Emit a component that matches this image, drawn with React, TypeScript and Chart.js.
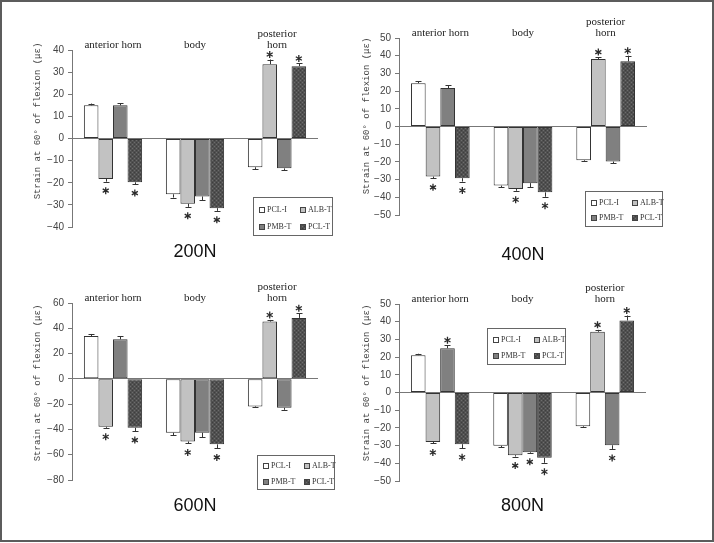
import React, { useEffect, useRef } from "react";
import { Chart, registerables } from "chart.js";
Chart.register(...registerables);

// ---------- data ----------
const categories: (string | string[])[] = ["anterior horn", "body", ["posterior", "horn"]];
const seriesNames = ["PCL-I", "ALB-T", "PMB-T", "PCL-T"];
const panelTitles = ["200N", "400N", "600N", "800N"];
const yTitleText = "Strain at 60° of flexion (με)";

const yMin = [-40, -50, -80, -50];
const yMax = [40, 50, 60, 50];
const yStep = [10, 10, 20, 10];

// 200N
const pclI_200 = [15.0, -25.2, -13.0];
const albT_200 = [-18.3, -29.5, 33.6];
const pmbT_200 = [15.0, -26.2, -13.5];
const pclT_200 = [-19.8, -31.5, 32.7];
const pclI_200_err = [0.8, 1.5, 0.8];
const albT_200_err = [1.2, 1.4, 2.1];
const pmbT_200_err = [1.0, 1.7, 0.8];
const pclT_200_err = [0.8, 1.2, 1.2];
const sig_200 = [false, true, false, true];

// 400N
const pclI_400 = [24.5, -33.4, -19.0];
const albT_400 = [-28.3, -35.3, 38.1];
const pmbT_400 = [21.7, -32.0, -19.8];
const pclT_400 = [-29.2, -37.2, 36.8];
const pclI_400_err = [1.0, 1.0, 0.4];
const albT_400_err = [1.0, 1.0, 1.1];
const pmbT_400_err = [1.7, 2.3, 1.0];
const pclT_400_err = [1.9, 2.5, 3.2];
const sig_400 = [false, true, false, true];

// 600N
const pclI_600 = [33.9, -42.6, -21.8];
const albT_600 = [-37.9, -49.5, 45.3];
const pmbT_600 = [31.3, -42.6, -22.9];
const pclT_600 = [-38.7, -51.8, 48.2];
const pclI_600_err = [1.6, 1.8, 0.5];
const albT_600_err = [0.8, 1.6, 1.3];
const pmbT_600_err = [2.4, 3.7, 1.6];
const pclT_600_err = [2.6, 3.2, 3.7];
const sig_600 = [false, true, false, true];

// 800N
const pclI_800 = [21.1, -30.1, -19.0];
const albT_800 = [-27.9, -35.4, 34.3];
const pmbT_800 = [25.0, -33.7, -29.8];
const pclT_800 = [-29.2, -36.9, 40.7];
const pclI_800_err = [0.8, 0.9, 0.4];
const albT_800_err = [0.9, 0.8, 1.1];
const pmbT_800_err = [1.7, 0.4, 2.1];
const pclT_800_err = [2.3, 2.8, 2.8];
const sig_800 = [false, true, true, true];

const panelValues = [
  [pclI_200, albT_200, pmbT_200, pclT_200],
  [pclI_400, albT_400, pmbT_400, pclT_400],
  [pclI_600, albT_600, pmbT_600, pclT_600],
  [pclI_800, albT_800, pmbT_800, pclT_800],
];
const panelErrors = [
  [pclI_200_err, albT_200_err, pmbT_200_err, pclT_200_err],
  [pclI_400_err, albT_400_err, pmbT_400_err, pclT_400_err],
  [pclI_600_err, albT_600_err, pmbT_600_err, pclT_600_err],
  [pclI_800_err, albT_800_err, pmbT_800_err, pclT_800_err],
];
const panelSig = [sig_200, sig_400, sig_600, sig_800];

// ---------- layout / style ----------
const PANELS = [
  { ox: 0, oy: 0, W: 357, H: 272, left: 72, right: 318, top: 50, bottom: 227, titleY: 252, legend: { x: 253, y: 197, w: 79, h: 38 }, yTitle: { x: 38, y: 121 } },
  { ox: 357, oy: 0, W: 357, H: 272, left: 42, right: 290, top: 38, bottom: 215, titleY: 255, legend: { x: 228, y: 191, w: 77, h: 35 }, yTitle: { x: 10, y: 116 } },
  { ox: 0, oy: 272, W: 357, H: 271, left: 72, right: 318, top: 31, bottom: 208, titleY: 234, legend: { x: 257, y: 183, w: 77, h: 34 }, yTitle: { x: 38, y: 111 } },
  { ox: 357, oy: 272, W: 357, H: 271, left: 42, right: 289, top: 32, bottom: 209, titleY: 234, legend: { x: 130, y: 56, w: 78, h: 36 }, yTitle: { x: 10, y: 111 } },
];

const AXIS = "#777777";
const EDGE = "#333333";

function makePattern(ctx: CanvasRenderingContext2D) {
  const c = document.createElement("canvas");
  c.width = 4;
  c.height = 4;
  const g = c.getContext("2d")!;
  g.fillStyle = "#505050";
  g.fillRect(0, 0, 4, 4);
  g.fillStyle = "#6c6c6c";
  g.fillRect(0, 0, 1, 1);
  g.fillRect(2, 2, 1, 1);
  g.fillStyle = "#3e3e3e";
  g.fillRect(2, 0, 1, 1);
  g.fillRect(0, 2, 1, 1);
  return ctx.createPattern(c, "repeat")!;
}

function drawStar(ctx: CanvasRenderingContext2D, x: number, y: number) {
  const r = 3.5;
  ctx.save();
  ctx.strokeStyle = "#2a2a2a";
  ctx.lineWidth = 1.3;
  ctx.beginPath();
  for (const a of [90, 30, 150]) {
    const rad = (a * Math.PI) / 180;
    ctx.moveTo(x - r * Math.cos(rad), y - r * Math.sin(rad));
    ctx.lineTo(x + r * Math.cos(rad), y + r * Math.sin(rad));
  }
  ctx.stroke();
  ctx.restore();
}

function Panel({ idx }: { idx: number }) {
  const ref = useRef<HTMLCanvasElement | null>(null);
  const cfg = PANELS[idx];
  useEffect(() => {
    const canvas = ref.current!;
    const ctx = canvas.getContext("2d")!;
    const pattern = makePattern(ctx);
    const colors: any[] = ["#ffffff", "#c2c2c2", "#808080", pattern];
    const values = panelValues[idx];
    const errors = panelErrors[idx];
    const sig = panelSig[idx];

    const titleLH = 18 * 1.2;
    const padTop = cfg.titleY - cfg.bottom - titleLH / 2;
    const padBot = cfg.H - cfg.bottom - padTop - titleLH;

    const annotate = {
      id: "annotate" + idx,
      afterDatasetsDraw(chart: any) {
        const c = chart.ctx as CanvasRenderingContext2D;
        const ys = chart.scales.y;
        c.save();
        values.forEach((series, i) => {
          const meta = chart.getDatasetMeta(i);
          series.forEach((v, j) => {
            const el = meta.data[j];
            const s = v >= 0 ? 1 : -1;
            const yBar = ys.getPixelForValue(v);
            const yCap = ys.getPixelForValue(v + s * errors[i][j]);
            c.strokeStyle = EDGE;
            c.lineWidth = 1;
            c.beginPath();
            c.moveTo(Math.round(el.x) + 0.5, yBar);
            c.lineTo(Math.round(el.x) + 0.5, yCap);
            c.moveTo(Math.round(el.x) - 2.5, Math.round(yCap) + 0.5);
            c.lineTo(Math.round(el.x) + 3.5, Math.round(yCap) + 0.5);
            c.stroke();
            if (sig[i]) {
              drawStar(c, el.x, s > 0 ? yCap - 5 : yCap + 9);
            }
          });
        });
        // legend box
        const L = cfg.legend;
        c.strokeStyle = "#666";
        c.lineWidth = 1;
        c.strokeRect(L.x + 0.5, L.y + 0.5, L.w, L.h);
        c.font = "8px 'Liberation Serif'";
        c.textBaseline = "middle";
        c.textAlign = "left";
        seriesNames.forEach((name, k) => {
          const col = k % 2;
          const row = Math.floor(k / 2);
          const mx = L.x + (col === 0 ? 9 : 50);
          const my = Math.round(L.y + L.h * (row === 0 ? 0.33 : 0.78));
          c.fillStyle = colors[k];
          c.fillRect(mx - 2.5, my - 2.5, 5, 5);
          c.strokeStyle = "#444";
          c.strokeRect(mx - 2.5, my - 2.5, 5, 5);
          c.fillStyle = "#333";
          c.fillText(name, mx + 5, my);
        });
        // y title
        c.save();
        c.translate(cfg.yTitle.x, cfg.yTitle.y);
        c.rotate(-Math.PI / 2);
        c.font = "9px 'Liberation Mono'";
        c.fillStyle = "#444";
        c.textAlign = "center";
        c.textBaseline = "middle";
        c.fillText(yTitleText, 0, 0);
        c.restore();
        c.restore();
      },
    };

    const chart = new Chart(canvas, {
      type: "bar",
      data: {
        labels: categories as any,
        datasets: values.map((d, i) => ({
          label: seriesNames[i],
          data: d,
          backgroundColor: colors[i],
          borderColor: EDGE,
          borderWidth: 1,
          borderSkipped: false,
          barPercentage: 1,
          categoryPercentage: 0.71,
        })),
      },
      options: {
        responsive: false,
        animation: false,
        devicePixelRatio: 1,
        layout: { padding: { left: 0, top: 0, bottom: 0, right: cfg.W - cfg.right } },
        plugins: {
          legend: { display: false },
          tooltip: { enabled: false },
          title: {
            display: true,
            text: panelTitles[idx],
            position: "bottom",
            fullSize: false,
            color: "#111",
            font: { family: "'Liberation Sans', Arial", size: 18, weight: "normal", lineHeight: 1.2 },
            padding: { top: padTop, bottom: padBot },
          },
        },
        scales: {
          x: {
            position: "top",
            grid: { display: false, drawTicks: false },
            border: { display: false },
            ticks: {
              color: "#222",
              padding: 0,
              maxRotation: 0,
              autoSkip: false,
              font: { family: "'Liberation Serif'", size: 11, lineHeight: 0.95 },
            },
            afterFit: (s: any) => {
              s.height = cfg.top;
            },
          },
          y: {
            min: yMin[idx],
            max: yMax[idx],
            ticks: {
              stepSize: yStep[idx],
              color: "#444",
              padding: 4,
              font: { family: "'Liberation Sans', Arial", size: 10 },
              callback: (v: any) => (Number(v) < 0 ? "\u2212" + Math.abs(Number(v)) : String(v)),
            },
            grid: {
              color: (c: any) => (c.tick && c.tick.value === 0 ? AXIS : "rgba(0,0,0,0)"),
              tickColor: AXIS,
              tickLength: 4,
              lineWidth: 1,
            },
            border: { display: true, color: AXIS },
            afterFit: (s: any) => {
              s.width = cfg.left;
            },
          },
        },
      },
      plugins: [annotate],
    } as any);
    return () => chart.destroy();
  }, []);
  return (
    <canvas
      ref={ref}
      width={cfg.W}
      height={cfg.H}
      style={{ position: "absolute", left: cfg.ox, top: cfg.oy, width: cfg.W, height: cfg.H }}
    />
  );
}

export default function App() {
  return (
    <div style={{ position: "absolute", left: 0, top: 0, width: 714, height: 543, background: "#fff" }}>
      {PANELS.map((_, i) => (
        <Panel key={i} idx={i} />
      ))}
      <div
        style={{
          position: "absolute",
          left: 0,
          top: 0,
          width: 714,
          height: 542,
          boxSizing: "border-box",
          border: "2px solid #5c5c5c",
          pointerEvents: "none",
        }}
      />
    </div>
  );
}
